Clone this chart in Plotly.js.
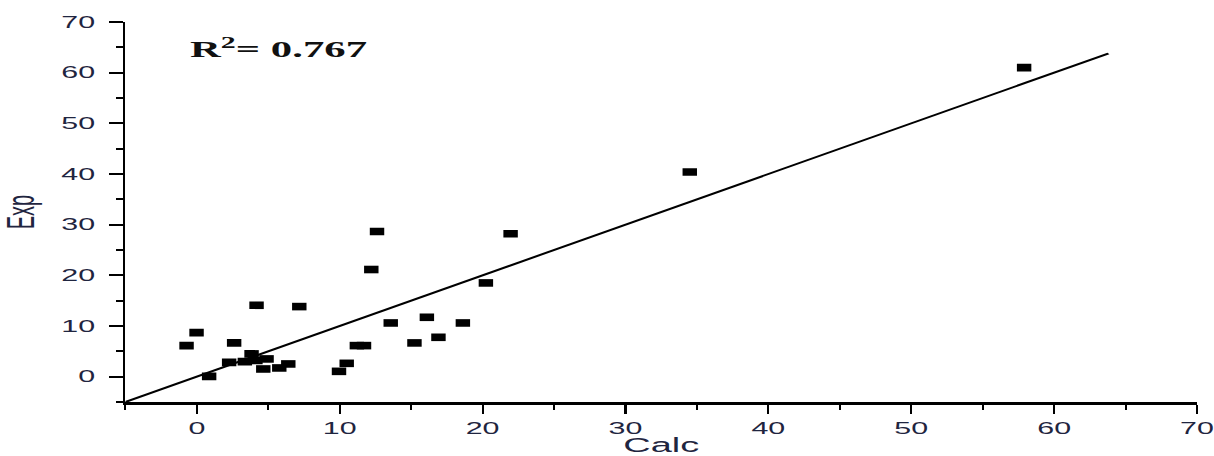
<!DOCTYPE html>
<html>
<head>
<meta charset="utf-8">
<script src="https://cdn.plot.ly/plotly-3.0.1.min.js"></script>
<style>
  html, body { margin: 0; padding: 0; background: #fff; overflow: hidden; }
  #wrap { width: 639px; height: 456px; transform: scaleX(1.9); transform-origin: 0 0; }
</style>
</head>
<body>
<div id="wrap"></div>
<script>
// Data
const calc = [-0.72, -0.02, 0.86, 2.26, 2.61, 3.36, 3.83, 4.10, 4.18, 4.65, 4.88, 5.77, 6.40, 7.17,
              9.95, 10.49, 11.20, 11.70, 12.21, 12.61, 13.57, 15.23, 16.10, 16.91, 18.62, 20.23,
              21.96, 34.50, 57.90];
const expv = [6.13, 8.70, 0.06, 2.83, 6.66, 2.96, 4.49, 3.20, 14.09, 1.52, 3.50, 1.72, 2.51, 13.83,
              1.05, 2.63, 6.13, 6.13, 21.15, 28.66, 10.60, 6.66, 11.72, 7.77, 10.60, 18.50,
              28.20, 40.40, 61.00];
const fitX = [-5, 63.8];
const fitY = [-5, 63.8];
const r2Label = 'R<sup>2</sup>= 0.767';
const xTitle = 'Calc';
const yTitle = 'Exp';

const tickFont = { family: 'Liberation Sans, Arial, sans-serif', size: 16, color: '#1f2540' };
const titleFont = { family: 'Liberation Sans, Arial, sans-serif', size: 20, color: '#1f2540' };

const traces = [
  {
    x: fitX, y: fitY, type: 'scatter', mode: 'lines',
    line: { color: '#000', width: 1.8 }, hoverinfo: 'skip', showlegend: false
  },
  {
    x: calc, y: expv, type: 'scatter', mode: 'markers',
    marker: { symbol: 'square', size: 7.6, color: '#000', line: { width: 0 } },
    showlegend: false
  }
];

const layout = {
  width: 639, height: 456,
  margin: { l: 66, r: 9, t: 22, b: 54 },
  paper_bgcolor: '#fff', plot_bgcolor: '#fff',
  showlegend: false,
  xaxis: {
    range: [-5, 70], tick0: 0, dtick: 10,
    showgrid: false, zeroline: false,
    showline: true, linecolor: '#000', linewidth: 2.5,
    ticks: 'outside', ticklen: 9, tickwidth: 1.1, tickcolor: '#000',
    minor: { dtick: 5, tick0: 0, ticks: 'outside', ticklen: 5, tickwidth: 1.1, tickcolor: '#000' },
    tickfont: tickFont, ticklabelstandoff: 1,
    title: { text: xTitle, font: titleFont, standoff: 11 }
  },
  yaxis: {
    range: [-5, 70], tick0: 0, dtick: 10,
    showgrid: false, zeroline: false,
    showline: true, linecolor: '#000', linewidth: 1.3,
    ticks: 'outside', ticklen: 7.4, tickwidth: 2, tickcolor: '#000',
    minor: { dtick: 5, tick0: 0, ticks: 'outside', ticklen: 3.7, tickwidth: 2, tickcolor: '#000' },
    tickfont: tickFont, ticklabelstandoff: 4,
    title: { text: yTitle, font: titleFont, standoff: 9 }
  },
  annotations: [
    {
      x: -0.75, y: 64.8, xref: 'x', yref: 'y', xanchor: 'left', yanchor: 'middle',
      text: r2Label, showarrow: false,
      font: { family: 'Liberation Serif, Times New Roman, serif', size: 22.5, color: '#111', weight: 'bold' }
    }
  ]
};

Plotly.newPlot('wrap', traces, layout, { displayModeBar: false, staticPlot: true });
</script>
</body>
</html>
